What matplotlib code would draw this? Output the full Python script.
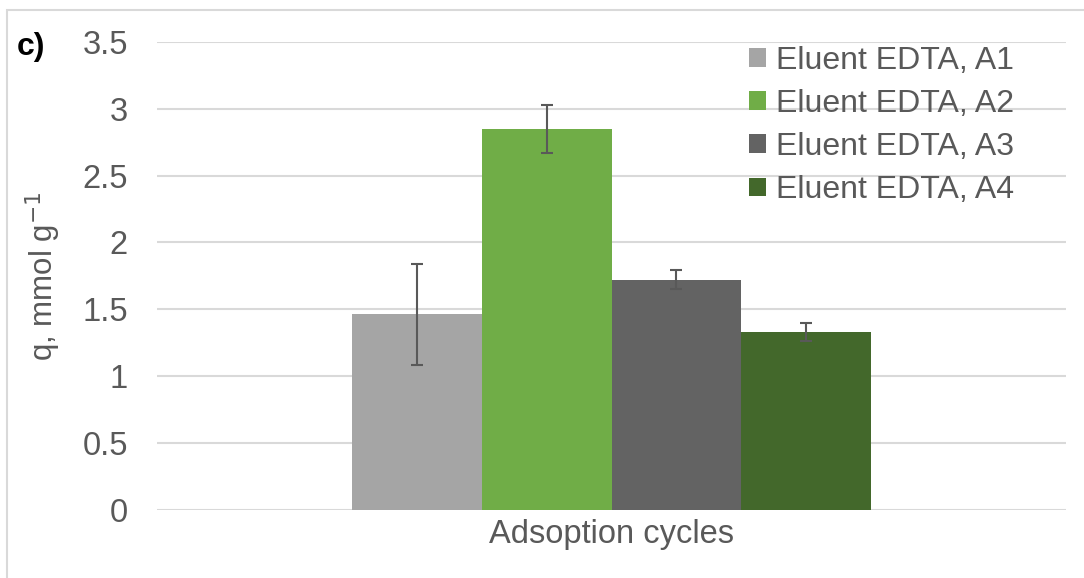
import matplotlib.pyplot as plt
import matplotlib.patches as mpatches
import numpy as np

plt.rcParams['font.family'] = ['Liberation Sans', 'DejaVu Sans']

series = ['Eluent EDTA, A1', 'Eluent EDTA, A2', 'Eluent EDTA, A3', 'Eluent EDTA, A4']
values = [1.46, 2.85, 1.72, 1.33]
errors = [0.38, 0.18, 0.07, 0.07]
colors = ['#A5A5A5', '#70AD47', '#636363', '#43682B']
category = 'Adsoption cycles'

txt = '#595959'

fig = plt.figure(figsize=(10.84, 5.78), dpi=100)
ax = fig.add_axes([157 / 1084, 1 - 509.5 / 578, (1066 - 157) / 1084, (509.5 - 42) / 578])

width = 0.572 / len(series)
offsets = (np.arange(len(series)) - (len(series) - 1) / 2) * width
for off, v, e, c, lab in zip(offsets, values, errors, colors, series):
    ax.bar(off, v, width=width, color=c, label=lab, zorder=2)
    ax.errorbar(off, v, yerr=e, fmt='none', ecolor=txt, elinewidth=1.5,
                capsize=4.5, capthick=1.5, zorder=3)

ax.set_xlim(-0.5, 0.5)
ax.set_ylim(0, 3.5)
ax.set_yticks(np.arange(0, 3.51, 0.5))
ax.set_yticklabels(['0', '0.5', '1', '1.5', '2', '2.5', '3', '3.5'])
ax.set_xticks([0])
ax.set_xticklabels([category])
ax.tick_params(axis='both', length=0, labelsize=23.5, labelcolor=txt)
ax.tick_params(axis='y', pad=21)
ax.tick_params(axis='x', pad=7)
ax.grid(axis='y', color='#D9D9D9', lw=1.5, zorder=0)
ax.spines[:].set_visible(False)
ax.set_ylabel('q, mmol g$^{-1}$', fontsize=22.5, color=txt, labelpad=14)

leg = ax.legend(loc='upper left', bbox_to_anchor=(749 / 1084, 1 - 46 / 578),
                bbox_transform=fig.transFigure, frameon=False, fontsize=23,
                handlelength=0.53, handleheight=0.53, handletextpad=0.3,
                labelspacing=0.41, borderaxespad=0, borderpad=0)
for t in leg.get_texts():
    t.set_color(txt)

fig.text(17 / 1084, 1 - 47 / 578, 'c)', fontsize=23, fontweight='bold',
         va='center', ha='left', color='black')

fig.patches.append(mpatches.Rectangle((7 / 1084, -0.1), 1.2, 1 - 10 / 578 + 0.1,
                                      transform=fig.transFigure, fill=False,
                                      edgecolor='#D9D9D9', lw=1.5))

fig.savefig('out.png', dpi=100)
